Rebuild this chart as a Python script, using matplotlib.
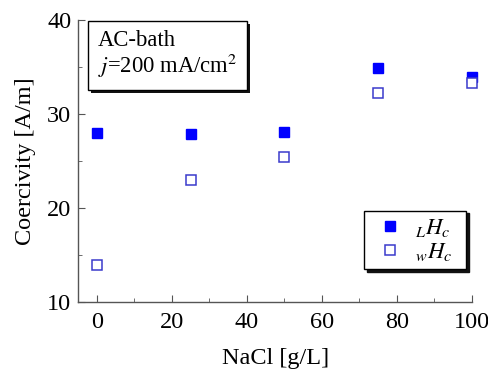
import matplotlib
matplotlib.use("Agg")
import matplotlib.pyplot as plt
from matplotlib.ticker import MultipleLocator
from matplotlib.patches import Rectangle

plt.rcParams['font.family'] = ['Liberation Serif', 'DejaVu Serif']
plt.rcParams['mathtext.fontset'] = 'stix'

nacl = [0, 25, 50, 75, 100]
LHc = [28.0, 27.9, 28.1, 34.9, 33.9]
wHc = [13.9, 23.0, 25.4, 32.2, 33.3]
labels = [r'$_{L}H_c$' + '\u00a0\u00a0', r'$_{w}H_c$' + '\u00a0\u00a0']
box_text = 'AC-bath\n' + r'$j$=200 mA/cm$^2$'

FS = 17.5
fig = plt.figure(figsize=(4.89, 3.69), dpi=100)
ax = fig.add_axes([0.160, 0.182, 0.805, 0.764])

ax.plot(nacl, LHc, 's', color='#0000ff', markersize=7.8, markeredgecolor='#0000ff',
        linestyle='none', label=labels[0], clip_on=False, zorder=3)
ax.plot(nacl, wHc, 's', markerfacecolor='white', markeredgecolor='#3a3acc', markersize=7.6,
        markeredgewidth=1.1, linestyle='none', label=labels[1], clip_on=False, zorder=4)

ax.set_xlim(-5, 100)
ax.set_ylim(10, 40)
ax.xaxis.set_major_locator(MultipleLocator(20))
ax.xaxis.set_minor_locator(MultipleLocator(10))
ax.yaxis.set_major_locator(MultipleLocator(10))
ax.yaxis.set_minor_locator(MultipleLocator(5))
sc = '#555555'
for s in ['top', 'right']:
    ax.spines[s].set_visible(False)
for s in ['left', 'bottom']:
    ax.spines[s].set_color(sc)
    ax.spines[s].set_linewidth(1.0)
ax.tick_params(which='both', direction='in', color=sc, labelsize=FS)
ax.tick_params(axis='x', pad=7)
ax.tick_params(axis='y', pad=5)
ax.tick_params(which='major', length=5)
ax.tick_params(which='minor', length=3)

ax.set_xlabel('NaCl [g/L]', fontsize=FS, labelpad=11)
ax.set_ylabel('Coercivity [A/m]', fontsize=FS, labelpad=8)

BFS = 16.3
tx, ty = 0.05, 0.966
txt = ax.text(tx, ty, box_text, transform=ax.transAxes, fontsize=BFS, va='top', ha='left',
              linespacing=1.05, zorder=5,
              bbox=dict(boxstyle='square,pad=0.45', linewidth=1.0, facecolor='white',
                        edgecolor='black'))

leg = ax.legend(loc='lower right', bbox_to_anchor=(0.985, 0.115), frameon=True, fancybox=False,
                shadow={'color': '#111111', 'alpha': 1.0}, edgecolor='black', fontsize=16.5,
                handlelength=1.6, handletextpad=0.3, labelspacing=0.05, borderpad=0.3,
                borderaxespad=0.0, markerscale=1.0)
leg.get_frame().set_linewidth(1.0)

# shadow behind the text box
fig.canvas.draw()
ext = txt.get_bbox_patch().get_window_extent()
shadow = Rectangle((ext.x0 + 3, ext.y0 - 3), ext.width, ext.height, transform=None,
                   facecolor='#111111', edgecolor='none', zorder=4.5)
ax.add_artist(shadow)

fig.savefig('out.png', dpi=100)
